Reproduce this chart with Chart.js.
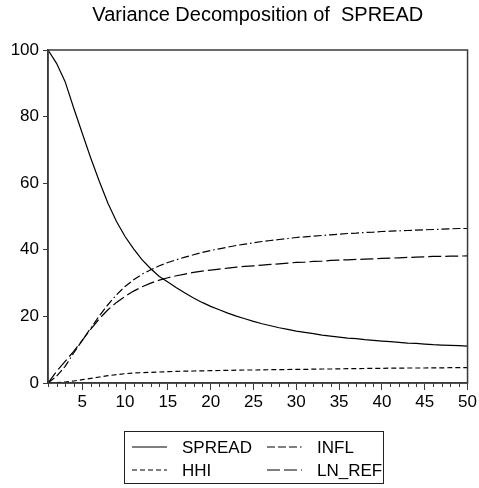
<!DOCTYPE html>
<html>
<head>
<meta charset="utf-8">
<script src="https://cdn.jsdelivr.net/npm/chart.js@4"></script>
<style>
  html, body { margin: 0; padding: 0; background: #fff; }
  canvas { display: block; }
</style>
</head>
<body>
<canvas id="vdChart" width="479" height="488"></canvas>
<script>
"use strict";

// forecast horizon 1..50
const periods = Array.from({ length: 50 }, (_, i) => i + 1);

const spread = [100, 96, 90.5, 82.6, 75, 67.5, 60.5, 54, 48.5, 44,
  40.3, 37, 34.3, 32, 30.3, 28.6, 27, 25.5, 24.2, 23,
  22, 21, 20.1, 19.3, 18.5, 17.8, 17.2, 16.6, 16.1, 15.6,
  15.2, 14.8, 14.4, 14.1, 13.8, 13.5, 13.3, 13, 12.8, 12.6,
  12.4, 12.2, 12, 11.9, 11.7, 11.5, 11.4, 11.3, 11.2, 11.1];

const hhi = [0, 0.1, 0.3, 0.6, 1, 1.4, 1.8, 2.2, 2.5, 2.8,
  3, 3.1, 3.2, 3.3, 3.4, 3.5, 3.55, 3.6, 3.65, 3.7,
  3.75, 3.8, 3.85, 3.9, 3.9, 3.95, 4, 4, 4.05, 4.1,
  4.1, 4.15, 4.2, 4.2, 4.25, 4.3, 4.3, 4.35, 4.4, 4.4,
  4.45, 4.45, 4.5, 4.5, 4.5, 4.55, 4.55, 4.6, 4.6, 4.6];

const infl = [0, 2, 5, 9, 12.8, 16.5, 20.2, 23.5, 26.5, 29,
  31, 32.7, 34, 35.2, 36.2, 37, 37.8, 38.5, 39.2, 39.8,
  40.3, 40.8, 41.3, 41.7, 42.1, 42.5, 42.8, 43.1, 43.4, 43.7,
  43.9, 44.1, 44.3, 44.5, 44.7, 44.9, 45, 45.2, 45.3, 45.5,
  45.6, 45.7, 45.8, 45.9, 46, 46.1, 46.2, 46.3, 46.4, 46.4];

const lnRef = [0, 3.5, 6.5, 9.5, 12.8, 16.2, 19.3, 22, 24.2, 26,
  27.6, 28.9, 30, 30.9, 31.6, 32.2, 32.7, 33.2, 33.6, 33.9,
  34.2, 34.5, 34.8, 35, 35.2, 35.4, 35.6, 35.8, 36, 36.2,
  36.3, 36.5, 36.6, 36.8, 36.9, 37, 37.1, 37.2, 37.3, 37.4,
  37.5, 37.6, 37.7, 37.8, 37.9, 38, 38, 38.1, 38.1, 38.2];

const seriesNames = ['SPREAD', 'HHI', 'INFL', 'LN_REF'];
const dashStyles = [[], [5, 3], [8, 3, 8, 3, 8, 3, 1.5, 3], [13, 4]];

const FONT = '"Liberation Sans", Arial, sans-serif';
const AXIS_COLOR = '#3a3a3a';

const toXY = arr => arr.map((v, i) => ({ x: periods[i], y: v }));

// frame around plot area, short minor ticks and the boxed legend
const framePlugin = {
  id: 'frameAndLegend',
  afterDraw(chart) {
    const { ctx, chartArea: a, scales } = chart;
    ctx.save();
    ctx.strokeStyle = AXIS_COLOR;
    ctx.lineWidth = 1.5;
    ctx.strokeRect(a.left, a.top, a.right - a.left, a.bottom - a.top);

    // minor ticks every period
    ctx.lineWidth = 1;
    ctx.beginPath();
    periods.forEach(p => {
      if (p % 5 === 0) return;
      const x = Math.round(scales.x.getPixelForValue(p)) + 0.5;
      ctx.moveTo(x, a.bottom);
      ctx.lineTo(x, a.bottom + 4);
    });
    ctx.stroke();

    // legend: 2x2, column-major
    const box = { left: 124, top: 431, width: 259, height: 52 };
    ctx.strokeStyle = '#222';
    ctx.lineWidth = 1;
    ctx.strokeRect(box.left + 0.5, box.top + 0.5, box.width, box.height);
    ctx.font = '17px ' + FONT;
    ctx.textBaseline = 'middle';
    ctx.fillStyle = '#000';
    chart.data.datasets.forEach((ds, i) => {
      const col = Math.floor(i / 2), row = i % 2;
      const x0 = box.left + 8 + col * 135;
      const y = box.top + 16 + row * 23;
      ctx.beginPath();
      ctx.setLineDash(ds.borderDash || []);
      ctx.lineWidth = 1.2;
      ctx.strokeStyle = '#000';
      ctx.moveTo(x0, y);
      ctx.lineTo(x0 + 35, y);
      ctx.stroke();
      ctx.setLineDash([]);
      ctx.fillText(ds.label, x0 + 50, y + 1);
    });
    ctx.restore();
  }
};

const datasets = [spread, hhi, infl, lnRef].map((arr, i) => ({
  label: seriesNames[i],
  data: toXY(arr),
  borderColor: '#000',
  borderWidth: 1.2,
  borderDash: dashStyles[i],
  pointRadius: 0,
  tension: 0,
  fill: false
}));

new Chart(document.getElementById('vdChart'), {
  type: 'line',
  data: { datasets },
  options: {
    responsive: false,
    animation: false,
    layout: { padding: { left: 0, right: 11, top: 0, bottom: 0 } },
    plugins: {
      legend: { display: false },
      tooltip: { enabled: false },
      title: {
        display: true,
        fullSize: false,
        text: 'Variance Decomposition of  SPREAD',
        color: '#000',
        font: { family: FONT, size: 20, weight: 'normal' },
        padding: { top: 3, bottom: 23 }
      }
    },
    scales: {
      x: {
        type: 'linear',
        min: 1,
        max: 50,
        afterFit: s => { s.height = 105; },
        afterBuildTicks: s => { s.ticks = periods.filter(p => p % 5 === 0).map(v => ({ value: v })); },
        grid: { drawOnChartArea: false, tickLength: 7, tickColor: AXIS_COLOR, tickWidth: 1 },
        border: { color: AXIS_COLOR, width: 1.5 },
        ticks: {
          color: '#000',
          font: { family: FONT, size: 17 },
          padding: 2,
          maxRotation: 0,
          autoSkip: false
        }
      },
      y: {
        min: 0,
        max: 100,
        afterFit: s => { s.width = 48; },
        grid: { drawOnChartArea: false, tickLength: 5, tickColor: AXIS_COLOR, tickWidth: 1 },
        border: { color: AXIS_COLOR, width: 1.5 },
        ticks: {
          stepSize: 20,
          color: '#000',
          font: { family: FONT, size: 17 },
          padding: 4
        }
      }
    }
  },
  plugins: [framePlugin]
});
</script>
</body>
</html>
